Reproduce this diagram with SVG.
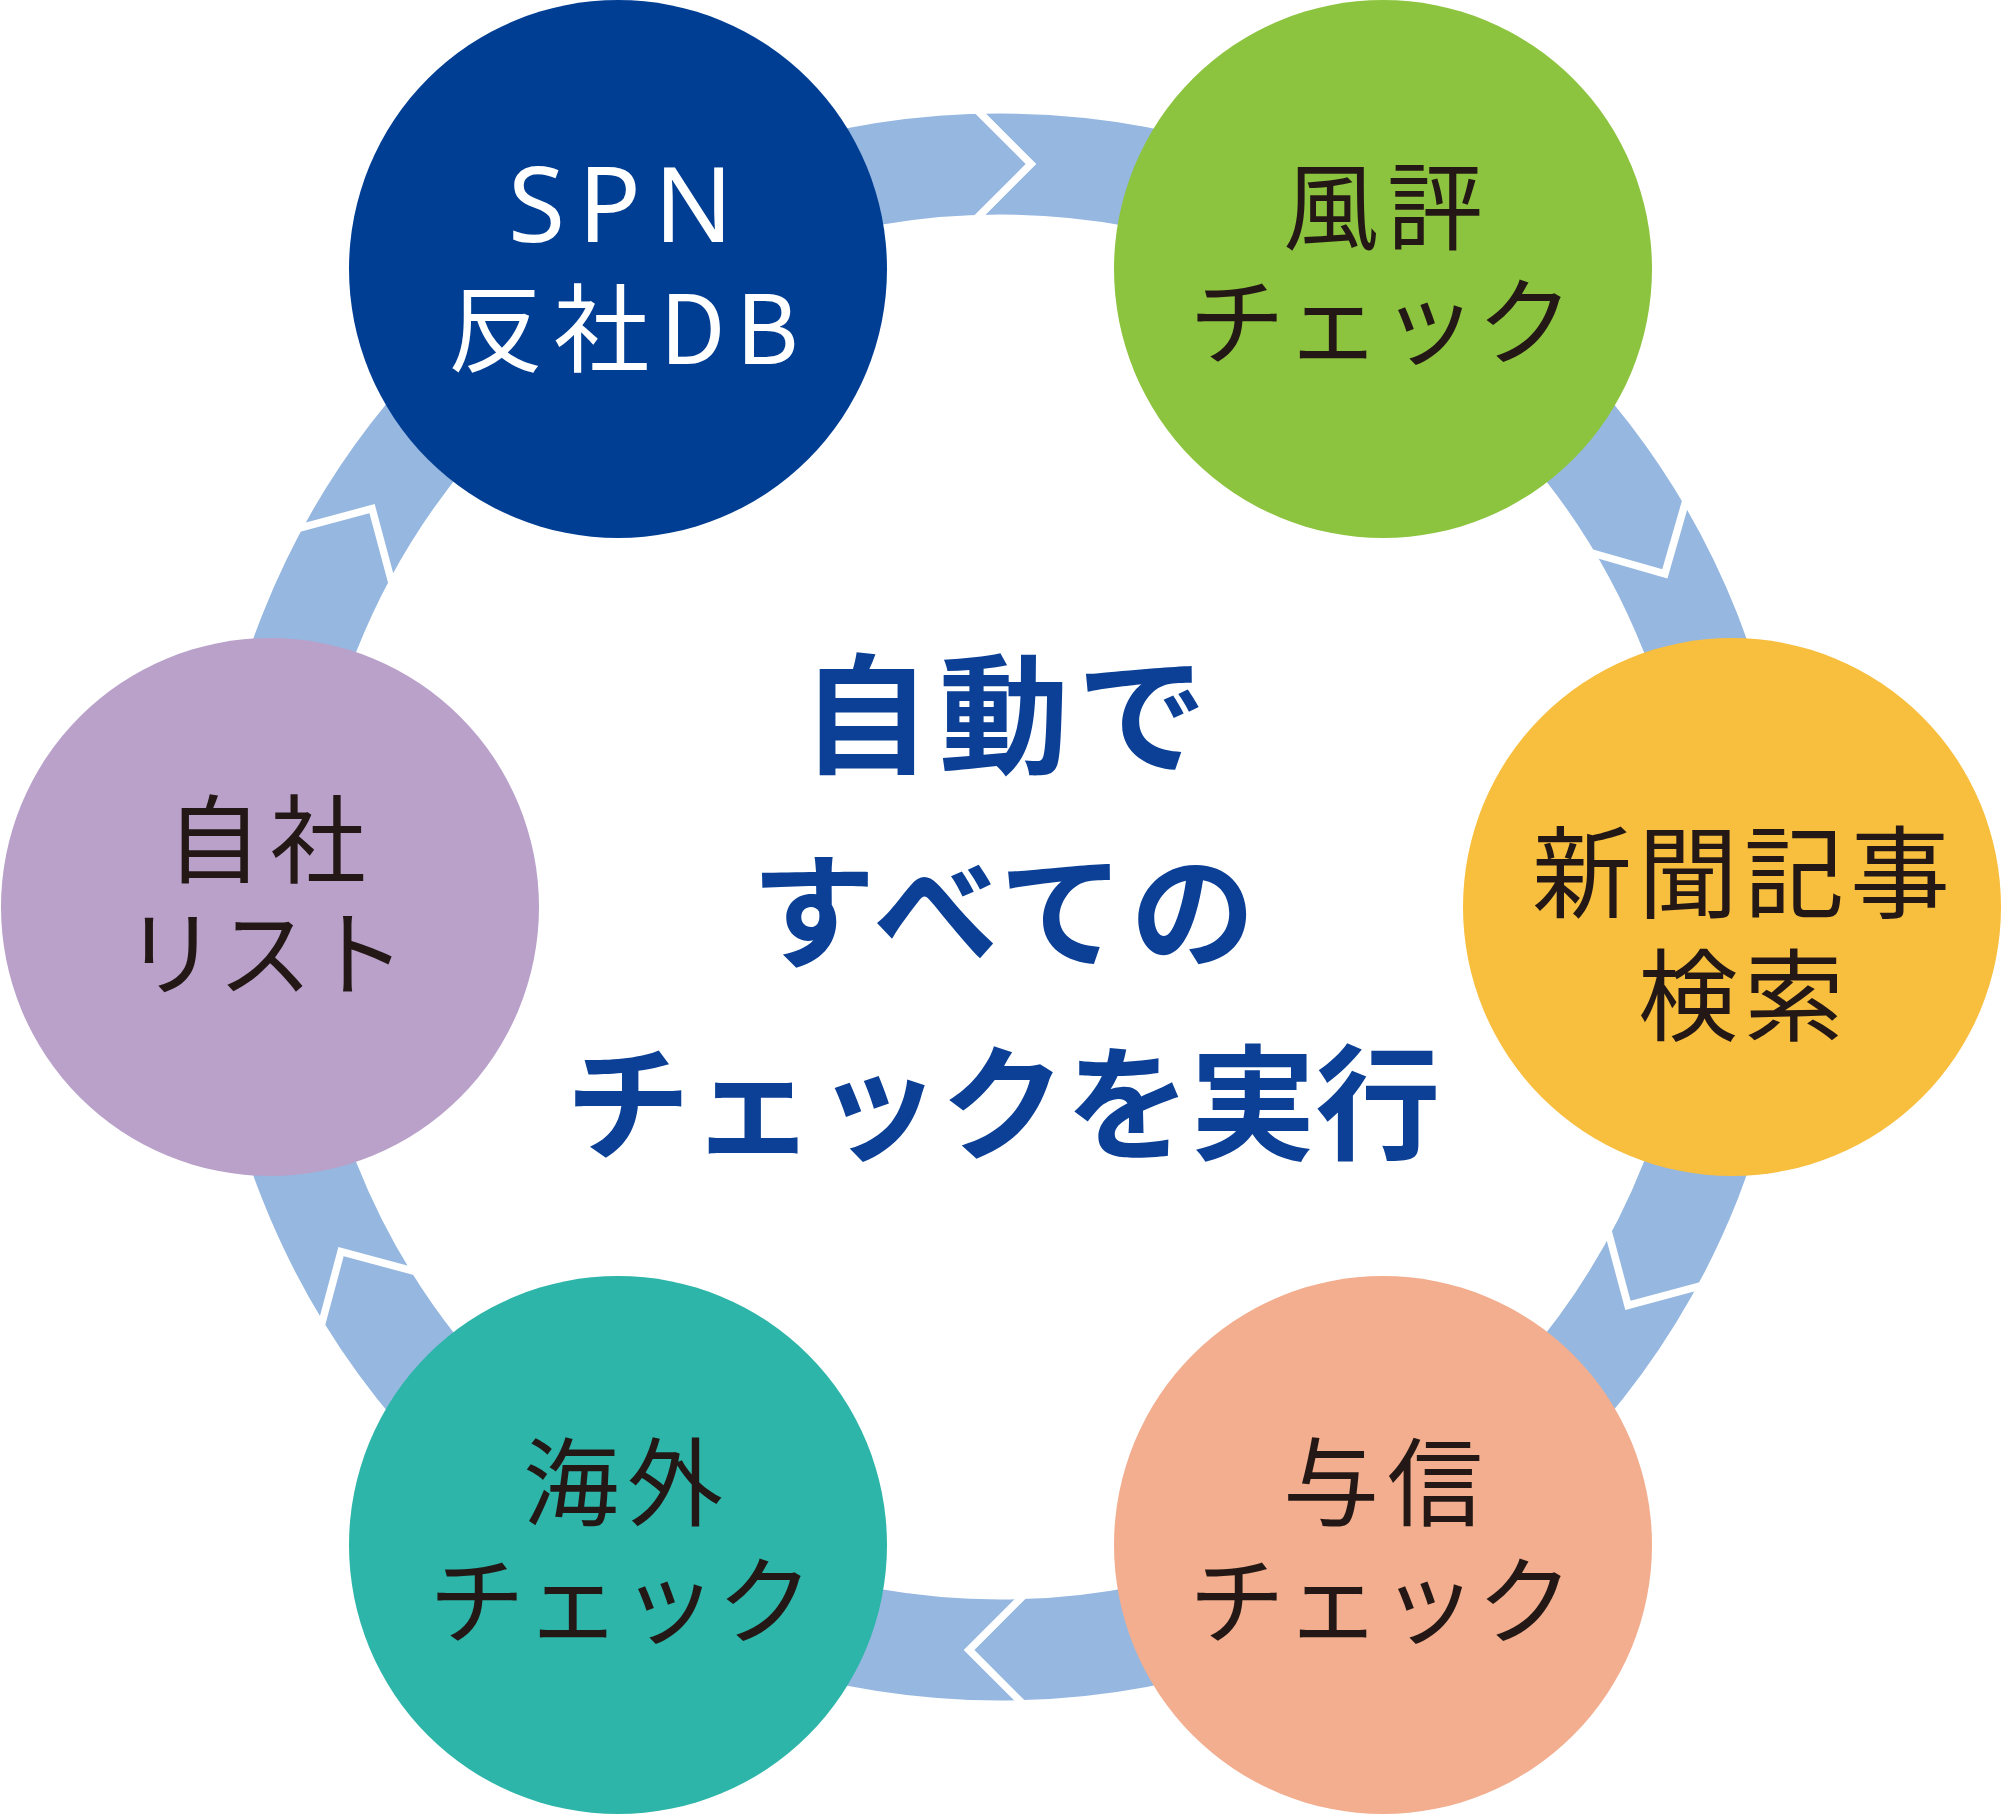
<svg xmlns="http://www.w3.org/2000/svg" width="2002" height="1814" viewBox="0 0 2002 1814">
<style>
.t{font-family:"Noto Sans CJK JP","Noto Sans",sans-serif;font-size:96px;fill:#231815;text-anchor:middle}
.w{fill:#ffffff}
.c{font-family:"Noto Sans CJK JP","Noto Sans",sans-serif;font-size:125px;font-weight:700;fill:#0b4096;text-anchor:middle}
.chev{fill:none;stroke:#ffffff;stroke-width:7.5;stroke-linejoin:miter}
</style>
<defs>
<polyline id="chev" class="chev" points="971,104 1031,164 971,224"/>
</defs>
<rect width="2002" height="1814" fill="#ffffff"/>
<g id="connectors">
<circle cx="1000" cy="907" r="743" fill="none" stroke="#95b7e0" stroke-width="101"/>
<use href="#chev"/>
<use href="#chev" transform="rotate(61 1000 907)"/>
<use href="#chev" transform="rotate(120 1000 907)"/>
<use href="#chev" transform="rotate(180 1000 907)"/>
<use href="#chev" transform="rotate(240 1000 907)"/>
<use href="#chev" transform="rotate(300 1000 907)"/>
</g>
<g id="node-spn">
<circle cx="618" cy="269" r="269" fill="#003e94"/>
<text class="t w" x="627" y="242" style="font-family:'Noto Sans',sans-serif;font-size:104px;letter-spacing:13px">SPN</text>
<text class="t w" x="628" y="364" style="letter-spacing:10px">反社DB</text>
</g>
<g id="node-fuhyo">
<circle cx="1383" cy="269" r="269" fill="#8dc43f"/>
<text class="t" x="1387" y="242" style="letter-spacing:8px">風評</text>
<text class="t" x="1381" y="357">チェック</text>
</g>
<g id="node-shinbun">
<circle cx="1732" cy="907" r="269" fill="#f8be3e"/>
<text class="t" x="1744" y="910" style="font-size:100px;letter-spacing:6px">新聞記事</text>
<text class="t" x="1744" y="1033" style="font-size:100px;letter-spacing:6px">検索</text>
</g>
<g id="node-yoshin">
<circle cx="1383" cy="1545" r="269" fill="#f2ae8e"/>
<text class="t" x="1387" y="1518" style="letter-spacing:8px">与信</text>
<text class="t" x="1381" y="1636">チェック</text>
</g>
<g id="node-kaigai">
<circle cx="618" cy="1545" r="269" fill="#2db5a9"/>
<text class="t" x="627" y="1518" style="letter-spacing:8px">海外</text>
<text class="t" x="621" y="1636">チェック</text>
</g>
<g id="node-jisha">
<circle cx="270" cy="907" r="269" fill="#b9a1ca"/>
<text class="t" x="270" y="875" style="letter-spacing:8px">自社</text>
<text class="t" x="265" y="989" style="font-size:94px">リスト</text>
</g>
<g id="center-text">
<text class="c" x="1008" y="763" style="font-size:130px;letter-spacing:8px">自動で</text>
<text class="c" x="1006" y="958" style="letter-spacing:6px">すべての</text>
<text class="c" x="1003" y="1150">チェックを実行</text>
</g>
</svg>
